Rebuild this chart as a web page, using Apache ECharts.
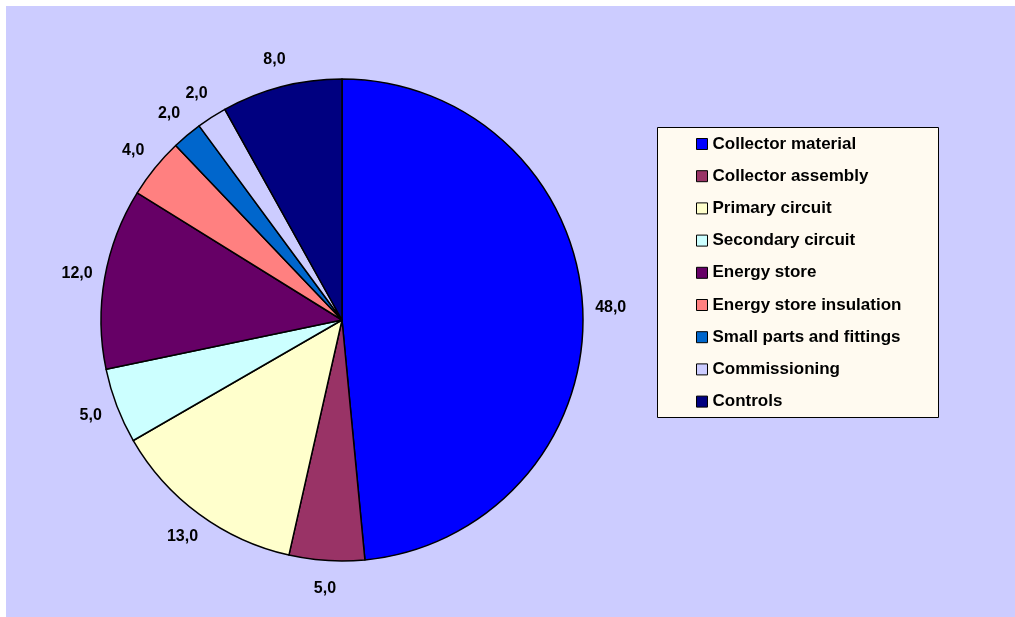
<!DOCTYPE html>
<html>
<head>
<meta charset="utf-8">
<script src="https://cdn.jsdelivr.net/npm/echarts@6/dist/echarts.min.js"></script>
<style>
html,body{margin:0;padding:0;background:#fff;width:1015px;height:617px;overflow:hidden;}
#c{position:absolute;left:6px;top:6px;width:1009px;height:611px;background:#CCCCFF;}
</style>
</head>
<body>
<div id="c"></div>
<script>
const categories = ["Collector material","Collector assembly","Primary circuit","Secondary circuit","Energy store","Energy store insulation","Small parts and fittings","Commissioning","Controls"];
const values = [48, 5, 13, 5, 12, 4, 2, 2, 8];
const colors = ["#0000FF","#993366","#FFFFCC","#CCFFFF","#660066","#FF8080","#0066CC","#CCCCFF","#000080"];

const chart = echarts.init(document.getElementById('c'), null, {renderer:'canvas'});
const font = "'Liberation Sans', Arial, sans-serif";
const pieData = categories.map((n, i) => ({name: n, value: values[i]}));
chart.setOption({
  backgroundColor: '#CCCCFF',
  animation: false,
  color: colors,
  graphic: [{
    type: 'rect', left: 651, top: 121, z: 0,
    shape: {width: 281, height: 290},
    style: {fill: '#FFFAF0', stroke: '#000', lineWidth: 1}
  }],
  legend: {
    orient: 'vertical', left: 690, top: 129.5, z: 10, padding: 0,
    itemWidth: 11, itemHeight: 11, itemGap: 15.2,
    icon: 'rect',
    itemStyle: {borderColor: '#000', borderWidth: 1},
    textStyle: {fontFamily: font, fontWeight: 'bold', fontSize: 17, color: '#000', height: 17, lineHeight: 17},
    data: categories
  },
  series: [{
    type: 'pie',
    center: [336, 314],
    radius: [0, 241],
    startAngle: 90,
    clockwise: true,
    avoidLabelOverlap: false,
    itemStyle: {borderColor: '#000', borderWidth: 1.5},
    label: {show: false},
    labelLine: {show: false},
    emphasis: {disabled: true},
    data: pieData
  }, {
    type: 'pie',
    center: [336, 314],
    radius: [241, 291],
    startAngle: 90,
    clockwise: true,
    silent: true,
    avoidLabelOverlap: false,
    legendHoverLink: false,
    itemStyle: {color: 'rgba(0,0,0,0)', borderWidth: 0},
    label: {
      show: true, position: 'inside',
      fontFamily: font, fontWeight: 'bold', fontSize: 16, color: '#000',
      formatter: p => p.value.toFixed(1).replace('.', ',')
    },
    labelLine: {show: false},
    emphasis: {disabled: true},
    data: pieData
  }]
});
</script>
</body>
</html>
